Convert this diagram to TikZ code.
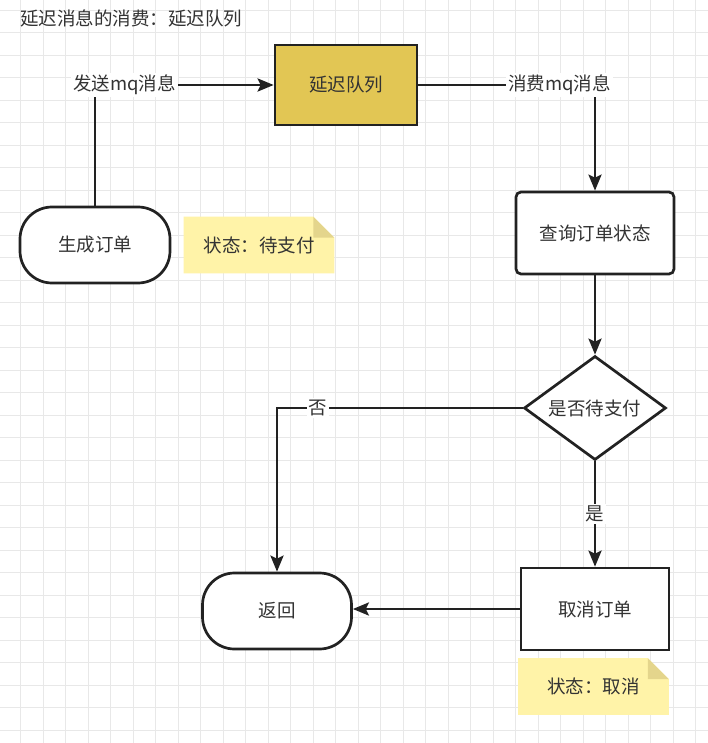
\documentclass[tikz,border=0pt]{standalone}
\usepackage{fontspec}
\setmainfont{Noto Sans CJK SC}
\usepackage{xcolor}
\usepackage{tikz}
\usetikzlibrary{positioning, arrows.meta, shapes.geometric, backgrounds}

\definecolor{inkgrey}{RGB}{51,51,51}
\definecolor{linegrey}{RGB}{34,34,34}
\definecolor{gridgrey}{RGB}{232,232,232}
\definecolor{queuegold}{RGB}{226,198,84}
\definecolor{notefill}{RGB}{255,243,168}
\definecolor{notefold}{RGB}{228,213,140}

\begin{document}
\begin{tikzpicture}[
  x=1pt, y=-1pt,
  > = {Stealth[length=16pt, width=13pt, inset=3pt]},
  font=\fontsize{18.5}{22}\selectfont,
  text=inkgrey,
  draw=linegrey,
  line width=2.7pt,
  gridline/.style={draw=gridgrey, line width=0.8pt},
  term/.style={draw, rounded corners=32pt, fill=white,
               minimum width=150pt, minimum height=76pt},
  proc/.style={draw, rounded corners=5pt, fill=white,
               minimum width=158pt, minimum height=82pt},
  queue/.style={draw, fill=queuegold,
                minimum width=142pt, minimum height=80pt},
  decide/.style={draw, diamond, aspect=1.37, inner sep=0pt, fill=white,
                 minimum width=142pt, minimum height=104pt},
  note/.style={minimum width=148pt, minimum height=54pt, inner sep=0pt},
  lbl/.style={fill=white, inner sep=2pt},
  arr/.style={->, draw=linegrey}
]
  \useasboundingbox (0,0) rectangle (708,743);

  % --- title ---
  \node[anchor=west, inner sep=0pt] (title) at (19,18) {延迟消息的消费：延迟队列};

  % --- nodes ---
  \node[queue]  (dq)     at (346,85)  {延迟队列};
  \node[term]   (gen)    at (95,245)  {生成订单};
  \node[proc]   (query)  at (595,233) {查询订单状态};
  \node[decide] (check)  at (595,408) {是否待支付};
  \node[proc, rounded corners=0pt, minimum width=148pt]
                (cancel) at (595,609) {取消订单};
  \node[term, minimum width=149pt] (back) at (277,611) {返回};

  % --- sticky notes ---
  \node[note] (n1) at (259,245) {状态：待支付};
  \node[note] (n2) at (593.5,686.5) {状态：取消};

  \begin{scope}[on background layer]
    \fill[white] (0,0) rectangle (708,743);
    \foreach \i in {0,...,31}
      \draw[gridline] (20.7+\i*22.5,0) -- (20.7+\i*22.5,743);
    \foreach \j in {0,...,32}
      \draw[gridline] (0,10.2+\j*22.5) -- (708,10.2+\j*22.5);
    \foreach \n in {n1,n2} {
      \fill[notefill] (\n.south west) -- (\n.north west)
        -- ([xshift=-21pt]\n.north east) -- ([yshift=-21pt]\n.north east)
        -- (\n.south east) -- cycle;
      \fill[notefold] ([xshift=-21pt]\n.north east)
        -- ([yshift=-21pt]\n.north east)
        -- ([xshift=-21pt, yshift=-21pt]\n.north east) -- cycle;
    }
  \end{scope}

  % --- connectors ---
  \draw[arr] (gen.north) |- (dq.west)
    node[lbl, pos=0.583] {发送mq消息};
  \draw[arr] (dq.east) -| (query.north)
    node[lbl, pos=0.4] {消费mq消息};
  \draw[arr] (query.south) -- (check.north);
  \draw[arr] (check.west) -| (back.north)
    node[lbl, pos=0.417] {否};
  \draw[arr] (check.south) -- (cancel.north)
    node[lbl, pos=0.5] {是};
  \draw[arr] (cancel.west) -- (back.east |- cancel.west);
\end{tikzpicture}
\end{document}
